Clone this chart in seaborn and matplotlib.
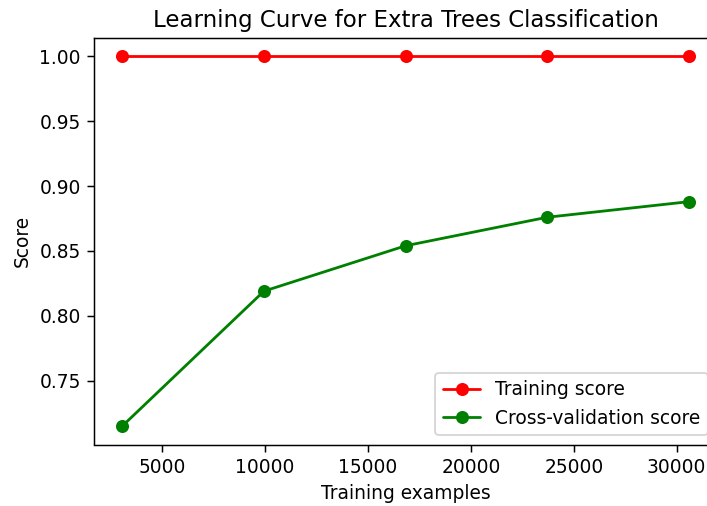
import numpy as np
import pandas as pd
import seaborn as sns
import matplotlib
matplotlib.use('Agg')
import matplotlib.pyplot as plt

# Data
train_sizes = [3058, 9938, 16819, 23700, 30580]
train_scores = [1.0, 1.0, 1.0, 1.0, 1.0]
cv_scores = [0.715, 0.819, 0.854, 0.876, 0.888]

sns.set_style('ticks')
plt.rcParams['font.family'] = ['DejaVu Sans']
plt.rcParams['axes.edgecolor'] = 'black'
plt.rcParams['text.color'] = 'black'
plt.rcParams['axes.labelcolor'] = 'black'
plt.rcParams['xtick.color'] = 'black'
plt.rcParams['ytick.color'] = 'black'
plt.rcParams['xtick.major.size'] = 3.5
plt.rcParams['ytick.major.size'] = 3.5

dpi = 134
fig = plt.figure(figsize=(707 / dpi, 506 / dpi), dpi=dpi)
# axes runs a little past the right edge, like the cropped original
ax = fig.add_axes([94 / 707, 61.5 / 506, 623 / 707, 406.5 / 506])

sns.lineplot(x=train_sizes, y=train_scores, ax=ax, color='r', marker='o',
             markersize=6, markeredgecolor='r', markeredgewidth=1,
             linewidth=1.5, label='Training score')
sns.lineplot(x=train_sizes, y=cv_scores, ax=ax, color='g', marker='o',
             markersize=6, markeredgecolor='g', markeredgewidth=1,
             linewidth=1.5, label='Cross-validation score')

ax.set_title('Learning Curve for Extra Trees Classification', fontsize=12.3)
ax.set_xlabel('Training examples')
ax.set_ylabel('Score')
ax.set_yticks([0.75, 0.80, 0.85, 0.90, 0.95, 1.00])
ax.set_yticklabels(['0.75', '0.80', '0.85', '0.90', '0.95', '1.00'])
ax.margins(x=0.05, y=0.05)
ax.legend(loc='lower right')

fig.savefig('out.png', dpi=dpi)
